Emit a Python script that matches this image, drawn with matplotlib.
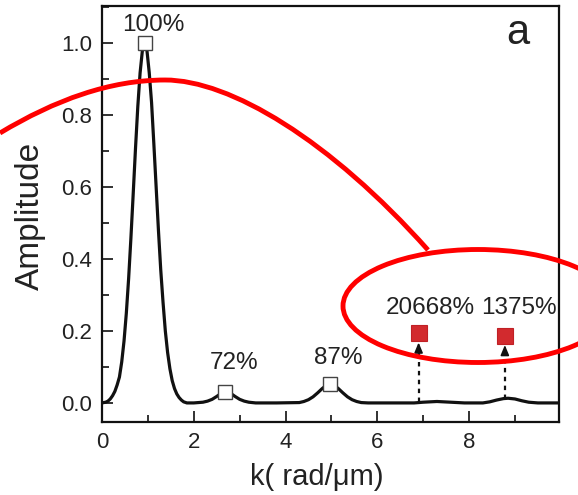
import matplotlib
matplotlib.use("Agg")
import matplotlib.pyplot as plt
from matplotlib.patches import Ellipse, PathPatch
from matplotlib.path import Path
from matplotlib.ticker import MultipleLocator

plt.rcParams['font.family'] = ['Liberation Sans', 'DejaVu Sans']

# ---- data ----
k_vals = [0.0, 0.08, 0.13, 0.18, 0.23, 0.28, 0.33, 0.38, 0.43, 0.48, 0.53, 0.58, 0.63,
          0.68, 0.73, 0.78, 0.83, 0.88, 0.93, 0.98, 1.03, 1.08, 1.13, 1.18, 1.23, 1.28,
          1.33, 1.38, 1.43, 1.48, 1.53, 1.58, 1.63, 1.68, 1.73, 1.78, 1.85,
          2.0, 2.2, 2.3, 2.4, 2.5, 2.6, 2.7, 2.8, 2.9, 3.0, 3.1, 3.2, 3.35,
          3.8, 4.3, 4.4, 4.5, 4.6, 4.7, 4.8, 4.9, 4.97, 5.05, 5.15, 5.25, 5.35, 5.45,
          5.55, 5.65, 5.8, 6.3, 6.8, 7.0, 7.3, 7.6, 7.9, 8.2, 8.3, 8.45, 8.6, 8.75,
          8.85, 9.0, 9.15, 9.3, 9.5, 9.95]
amplitude = [0.0, 0.002, 0.005, 0.011, 0.02, 0.032, 0.05, 0.072, 0.114, 0.172, 0.249, 0.345,
             0.458, 0.581, 0.707, 0.823, 0.917, 0.979, 1.0, 0.979, 0.917, 0.835, 0.72, 0.60,
             0.48, 0.37, 0.28, 0.20, 0.14, 0.095, 0.062, 0.04, 0.025, 0.015, 0.008, 0.003, 0.0,
             0.0, 0.002, 0.005, 0.01, 0.018, 0.027, 0.032, 0.027, 0.018, 0.01, 0.005, 0.002, 0.0,
             0.0, 0.001, 0.004, 0.009, 0.017, 0.028, 0.04, 0.05, 0.055, 0.05, 0.04, 0.028, 0.017,
             0.009, 0.004, 0.001, 0.0, 0.0, 0.0, 0.002, 0.004, 0.002, 0.0, 0.0, 0.0, 0.003, 0.008,
             0.012, 0.013, 0.011, 0.006, 0.002, 0.0, 0.0]

open_k = [0.93, 2.69, 4.96]
open_amp = [1.0, 0.029, 0.052]
open_labels = ["100%", "72%", "87%"]
open_label_k = [1.12, 2.88, 5.14]
open_label_amp = [1.05, 0.11, 0.126]

red_k = [6.90, 8.78]
red_amp = [0.193, 0.186]
red_labels = ["20668%", "1375%"]
red_label_k = [7.15, 9.09]
red_label_amp = [0.264, 0.264]
arrow_base_amp = [0.003, 0.012]
arrow_tip_amp = [0.168, 0.161]

x_ticks = [0, 2, 4, 6, 8]
y_ticks = [0.0, 0.2, 0.4, 0.6, 0.8, 1.0]

W, H = 578, 495
fig = plt.figure(figsize=(W / 100, H / 100), dpi=100)
ax = fig.add_axes([102 / W, 1 - 422 / H, (559 - 102) / W, (422 - 6) / H])

ax.plot(k_vals, amplitude, color='#111111', lw=2.3, zorder=2, solid_joinstyle='round')

ax.plot(open_k, open_amp, linestyle='none', marker='s', markersize=10.5,
        markerfacecolor='white', markeredgecolor='#444444', markeredgewidth=1.0, zorder=3)
for kx, ay, t in zip(open_label_k, open_label_amp, open_labels):
    ax.text(kx, ay, t, ha='center', va='center', fontsize=17.5, color='#222222')

for kx, a0, a1 in zip(red_k, arrow_base_amp, arrow_tip_amp):
    ax.plot([kx, kx], [a0, a1 - 0.02], color='#111111', lw=1.6, linestyle=(0, (2, 2)), zorder=2)
    ax.annotate('', xy=(kx, a1), xytext=(kx, a1 - 0.025),
                arrowprops=dict(arrowstyle='-|>,head_length=0.6,head_width=0.25',
                                color='#111111', lw=1.2, shrinkA=0, shrinkB=0), zorder=3)

ax.plot(red_k, red_amp, linestyle='none', marker='s', markersize=11,
        markerfacecolor='#d22a2e', markeredgecolor='#c02025', markeredgewidth=0.8, zorder=3)
for kx, ay, t in zip(red_label_k, red_label_amp, red_labels):
    ax.text(kx, ay, t, ha='center', va='center', fontsize=17.5, color='#222222')

ax.set_xlim(0, 9.96)
ax.set_ylim(-0.053, 1.103)
ax.set_xticks(x_ticks)
ax.set_yticks(y_ticks)
ax.set_yticklabels([f"{v:.1f}" for v in y_ticks])
ax.xaxis.set_minor_locator(MultipleLocator(1))
ax.yaxis.set_minor_locator(MultipleLocator(0.1))
ax.tick_params(which='both', direction='in', top=False, right=False, labelsize=16,
               colors='#222222', width=1.3)
ax.tick_params(which='major', length=8)
ax.tick_params(which='minor', length=5)
ax.tick_params(axis='y', pad=7)
ax.tick_params(axis='x', pad=7)
for s in ax.spines.values():
    s.set_linewidth(1.6)
    s.set_color('#111111')

fig.text(30 / W, 1 - 216 / H, "Amplitude", rotation=90, ha='center', va='center',
         fontsize=24, color='#222222')
fig.text(317 / W, 1 - 477 / H, "k( rad/\u03bcm)", ha='center', va='center',
         fontsize=21, color='#222222')
ax.text(518 / W, 1 - 33 / H, "a", transform=fig.transFigure, ha='center', va='center',
        fontsize=30, color='#222222')

# red annotation: ellipse and connecting curve (in figure pixels)
def fp(x, y):
    return (x / W, 1 - y / H)

ell = Ellipse(fp(478, 306), 270 / W, 113 / H, fill=False, edgecolor='#ff0000',
              lw=3.5, transform=fig.transFigure, zorder=10)
fig.add_artist(ell)
verts = [fp(0, 133), fp(55, 100), fp(110, 80), fp(165, 80),
         fp(230, 80), fp(330, 140), fp(428, 250)]
codes = [Path.MOVETO, Path.CURVE4, Path.CURVE4, Path.CURVE4,
         Path.CURVE4, Path.CURVE4, Path.CURVE4]
fig.add_artist(PathPatch(Path(verts, codes), fill=False, edgecolor='#ff0000', lw=3.5,
                         transform=fig.transFigure, zorder=10, capstyle='butt'))

fig.savefig("out.png", dpi=100)
